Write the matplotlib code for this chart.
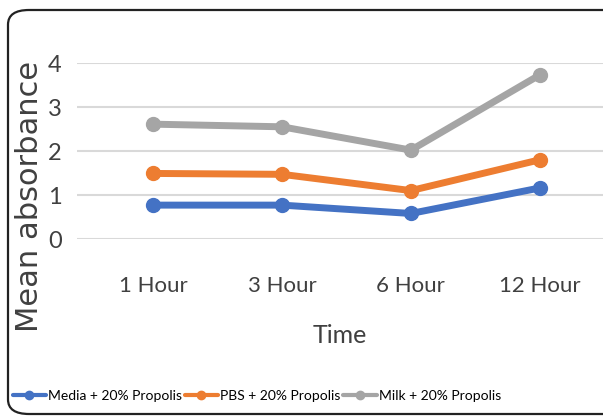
import matplotlib.pyplot as plt
from matplotlib.patches import FancyBboxPatch

times = ["1 Hour", "3 Hour", "6 Hour", "12 Hour"]
media = [0.77, 0.77, 0.58, 1.16]
pbs = [1.49, 1.47, 1.10, 1.80]
milk = [2.61, 2.55, 2.02, 3.73]
series_names = ["Media + 20% Propolis", "PBS + 20% Propolis", "Milk + 20% Propolis"]
colors = ["#4472C4", "#ED7D31", "#A5A5A5"]

narrow = ["Lato", "DejaVu Sans"]

fig = plt.figure(figsize=(6.03, 4.17), dpi=100)

# rounded frame, cut off at right like the source image
frame = FancyBboxPatch((8 / 603, 3 / 417), 1.2, 404 / 417,
                       boxstyle="round,pad=0,rounding_size=0.035",
                       transform=fig.transFigure, facecolor="none",
                       edgecolor="#222222", linewidth=1.6, clip_on=False)
fig.patches.append(frame)

ax = fig.add_axes([77 / 603, (417 - 239) / 417, 1 - 77 / 603, 176 / 417])
x = range(len(times))
for vals, name, c in zip([media, pbs, milk], series_names, colors):
    ax.plot(x, vals, color=c, lw=5, marker="o", ms=10, label=name,
            clip_on=False, solid_capstyle="round")

ax.set_xlim(-0.59, 3.49)
ax.set_ylim(0, 4)
ax.set_yticks([0, 1, 2, 3, 4])
ax.yaxis.grid(True, color="#D9D9D9", lw=1.5)
ax.set_axisbelow(True)
for s in ax.spines.values():
    s.set_visible(False)
ax.tick_params(length=0)
ax.tick_params(axis="y", pad=11)
ax.tick_params(axis="x", pad=27)
ax.set_xticks(list(x))
ax.set_xticklabels(times, fontsize=16, family=narrow, color="#404040")
for lab in ax.get_yticklabels():
    lab.set_fontsize(17)
    lab.set_family(narrow)
    lab.set_color("#404040")

ax.set_xlabel("Time", fontsize=18, family=narrow, color="#404040", labelpad=20)
fig.text(30 / 603, 1 - 196 / 417, "Mean absorbance", rotation=90, fontsize=22,
         color="#404040", ha="center", va="center")

ax.legend(loc="center left", bbox_to_anchor=(-70 / 603 / (1 - 77 / 603), -157 / 176),
          ncol=3, frameon=False, handlelength=2.4, handletextpad=0.15,
          columnspacing=0.2, prop={"family": narrow, "size": 10},
          borderaxespad=0)
for h in ax.get_legend().legend_handles:
    h.set_linewidth(3)
    h.set_markersize(6)

fig.savefig("out.png", dpi=100)
